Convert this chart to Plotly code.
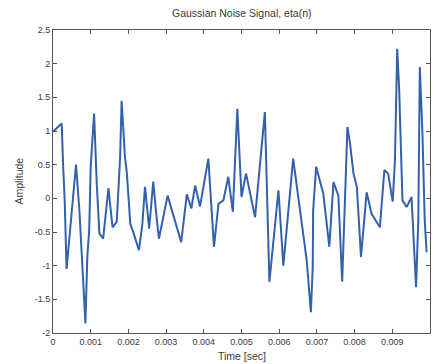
import plotly.graph_objects as go

# Sampled noise signal eta(n): time in seconds, amplitude
time_s = [
    0.0, 0.00023, 0.00027, 0.00031, 0.00036, 0.00045, 0.00054, 0.00061,
    0.00070, 0.00076, 0.00080, 0.00086, 0.00091, 0.00096, 0.00100, 0.00109,
    0.00116, 0.00123, 0.00133, 0.00147, 0.00158, 0.00169, 0.00178, 0.00182,
    0.00191, 0.00196, 0.00200, 0.00205, 0.00214, 0.00228, 0.00237, 0.00244,
    0.00255, 0.00266, 0.00275, 0.00281, 0.00304, 0.00340, 0.00355, 0.00367,
    0.00377, 0.00390, 0.00412, 0.00427, 0.00439, 0.00452, 0.00465, 0.00477,
    0.00489, 0.00500, 0.00512, 0.00536, 0.00562, 0.00574, 0.00598, 0.00611,
    0.00637, 0.00664, 0.00673, 0.00684, 0.00689, 0.00690, 0.00698, 0.00717,
    0.00733, 0.00744, 0.00757, 0.00767, 0.00774, 0.00781, 0.00788, 0.00797,
    0.00806, 0.00817, 0.00832, 0.00845, 0.00867, 0.00879, 0.00889, 0.00901,
    0.00907, 0.00913, 0.00918, 0.00927, 0.00938, 0.00951, 0.00963, 0.00969,
    0.00973, 0.00980, 0.00986, 0.00991,
]
amplitude = [
    0.99, 1.11, 0.47, -0.03, -1.05, -0.48, 0.17, 0.50,
    -0.18, -0.72, -1.22, -1.86, -0.87, -0.48, 0.47, 1.26,
    0.22, -0.52, -0.60, 0.15, -0.43, -0.35, 0.61, 1.45,
    0.61, 0.37, -0.03, -0.38, -0.52, -0.77, -0.38, 0.17,
    -0.45, 0.25, -0.30, -0.60, 0.04, -0.65, 0.06, -0.15,
    0.19, -0.12, 0.59, -0.72, -0.08, -0.03, 0.32, -0.20,
    1.33, 0.02, 0.37, -0.28, 1.28, -1.24, 0.12, -1.00,
    0.59, -0.52, -0.92, -1.69, -1.02, -0.18, 0.47, 0.07,
    -0.72, 0.24, 0.04, -1.24, -0.13, 1.06, 0.81, 0.37,
    0.17, -0.87, 0.09, -0.23, -0.43, 0.42, 0.37, -0.05,
    0.56, 2.22, 1.65, -0.03, -0.13, 0.02, -1.32, -0.33,
    1.95, 0.96, -0.33, -0.80,
]

x_ticks = [0, 0.001, 0.002, 0.003, 0.004, 0.005, 0.006, 0.007, 0.008, 0.009, 0.01]
x_tick_labels = ["0", "0.001", "0.002", "0.003", "0.004", "0.005",
                 "0.006", "0.007", "0.008", "0.009", "0.01"]
y_ticks = [-2, -1.5, -1, -0.5, 0, 0.5, 1, 1.5, 2, 2.5]
y_tick_labels = ["-2", "-1.5", "-1", "-0.5", "0", "0.5", "1", "1.5", "2", "2.5"]

FONT = "Liberation Sans, Arial, sans-serif"
TEXT = "#3a3a3a"
AXIS = "#555555"

fig = go.Figure(
    go.Scatter(
        x=time_s, y=amplitude, mode="lines",
        line=dict(color="#3461ad", width=2),
        hoverinfo="skip",
    )
)

axis_common = dict(
    showline=True, linecolor=AXIS, linewidth=1, mirror="ticks",
    ticks="inside", ticklen=4, tickcolor=AXIS, tickwidth=1,
    showgrid=False, zeroline=False,
    tickfont=dict(family=FONT, size=9, color=TEXT),
)

fig.update_layout(
    width=438, height=364,
    margin=dict(l=53, r=8, t=30, b=31),
    paper_bgcolor="white", plot_bgcolor="white",
    showlegend=False,
    xaxis=dict(range=[0, 0.01], tickvals=x_ticks, ticktext=x_tick_labels,
               automargin=False, **axis_common),
    yaxis=dict(range=[-2, 2.5], tickvals=y_ticks, ticktext=y_tick_labels,
               automargin=False, **axis_common),
    annotations=[
        dict(text="Gaussian Noise Signal, eta(n)", xref="paper", yref="paper",
             x=0.5, y=1, yshift=17, yanchor="middle", showarrow=False,
             font=dict(family=FONT, size=10.5, color=TEXT)),
        dict(text="Time [sec]", xref="paper", yref="paper",
             x=0.5, y=0, yshift=-23, yanchor="middle", showarrow=False,
             font=dict(family=FONT, size=10.5, color=TEXT)),
        dict(text="Amplitude", xref="paper", yref="paper",
             x=0, y=0.5, xshift=-35, xanchor="center", yanchor="middle",
             textangle=-90, showarrow=False,
             font=dict(family=FONT, size=10.5, color=TEXT)),
    ],
)

fig.write_html("out.html")
